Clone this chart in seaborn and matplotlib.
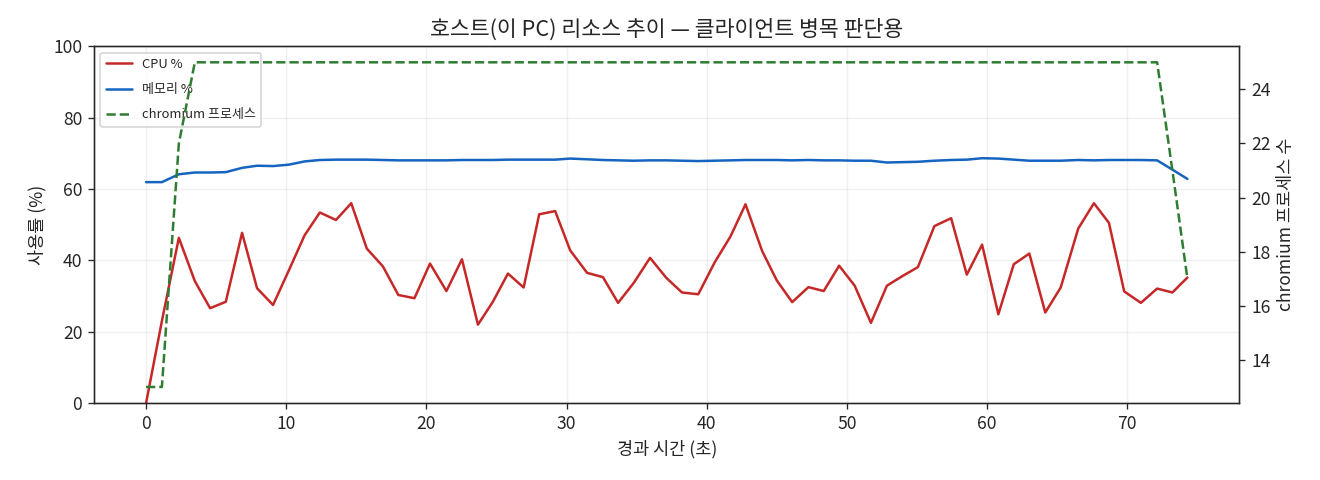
import pandas as pd
import seaborn as sns
import matplotlib.pyplot as plt

sns.set_style("ticks")
plt.rcParams['font.family'] = ['Noto Sans CJK KR', 'DejaVu Sans']
plt.rcParams['font.size'] = 10.5
plt.rcParams['axes.unicode_minus'] = False

# elapsed time (s) of each sample
elapsed = [0.0, 1.13, 2.34, 3.48, 4.57, 5.69, 6.85, 7.92, 9.06, 10.2,
           11.31, 12.4, 13.55, 14.64, 15.75, 16.9, 18.0, 19.15, 20.26, 21.43,
           22.54, 23.68, 24.73, 25.82, 26.94, 28.05, 29.19, 30.26, 31.47, 32.6,
           33.68, 34.8, 35.96, 37.12, 38.24, 39.4, 40.58, 41.7, 42.77, 43.96,
           45.0, 46.1, 47.26, 48.35, 49.45, 50.56, 51.72, 52.86, 53.97, 55.07,
           56.25, 57.44, 58.56, 59.65, 60.81, 61.91, 63.02, 64.16, 65.26, 66.51,
           67.63, 68.7, 69.79, 70.98, 72.14, 73.23, 74.3]

cpu = [0.0, 23.0, 46.3, 34.2, 26.6, 28.4, 47.7, 32.2, 27.5, 37.3,
       47.0, 53.4, 51.3, 56.0, 43.3, 38.3, 30.3, 29.4, 39.1, 31.4,
       40.3, 22.0, 28.3, 36.3, 32.4, 52.9, 53.8, 42.8, 36.5, 35.3,
       28.1, 33.7, 40.7, 35.1, 31.0, 30.5, 39.5, 46.7, 55.7, 42.6,
       34.4, 28.3, 32.5, 31.4, 38.5, 32.9, 22.5, 32.9, 35.6, 38.1,
       49.6, 51.8, 36.0, 44.4, 24.9, 38.9, 41.9, 25.4, 32.4, 48.9,
       56.0, 50.5, 31.3, 28.1, 32.1, 31.0, 35.2]

memory = [61.9, 61.9, 64.1, 64.6, 64.6, 64.7, 65.9, 66.5, 66.4, 66.8,
          67.7, 68.1, 68.2, 68.2, 68.2, 68.1, 68.0, 68.0, 68.0, 68.0,
          68.1, 68.1, 68.1, 68.2, 68.2, 68.2, 68.2, 68.5, 68.3, 68.1,
          68.0, 67.9, 68.0, 68.0, 67.9, 67.8, 67.9, 68.0, 68.1, 68.1,
          68.1, 68.0, 68.1, 68.0, 68.0, 67.9, 67.9, 67.4, 67.5, 67.6,
          67.9, 68.1, 68.2, 68.6, 68.5, 68.2, 67.9, 67.9, 67.9, 68.1,
          68.0, 68.1, 68.1, 68.1, 68.0, 65.4, 62.8]

chromium = [13, 13, 22] + [25] * 62 + [21, 17]

df = pd.DataFrame({'t': elapsed, 'cpu': cpu, 'mem': memory, 'chromium': chromium})

fig, ax = plt.subplots(figsize=(11, 4), dpi=120)
fig.subplots_adjust(left=0.0712, right=0.939, top=0.904, bottom=0.160)

sns.lineplot(data=df, x='t', y='cpu', ax=ax, color='#c62828', linewidth=1.5, label='CPU %')
sns.lineplot(data=df, x='t', y='mem', ax=ax, color='#1565c0', linewidth=1.5, label='메모리 %')
ax.set_ylim(0, 100)
ax.set_xlabel('경과 시간 (초)')
ax.set_ylabel('사용률 (%)')
ax.grid(True, alpha=0.3)
ax.set_title('호스트(이 PC) 리소스 추이 — 클라이언트 병목 판단용', fontsize=13)

ax2 = ax.twinx()
sns.lineplot(data=df, x='t', y='chromium', ax=ax2, color='#2e7d32', linewidth=1.5,
             linestyle='--', label='chromium 프로세스')
ax2.set_ylabel('chromium 프로세스 수')
ax2.grid(False)

h1, l1 = ax.get_legend_handles_labels()
h2, l2 = ax2.get_legend_handles_labels()
ax2.get_legend().remove()
ax.legend(h1 + h2, l1 + l2, loc='upper left', fontsize=7.8, labelspacing=0.95)

fig.savefig('out.png', dpi=120)
